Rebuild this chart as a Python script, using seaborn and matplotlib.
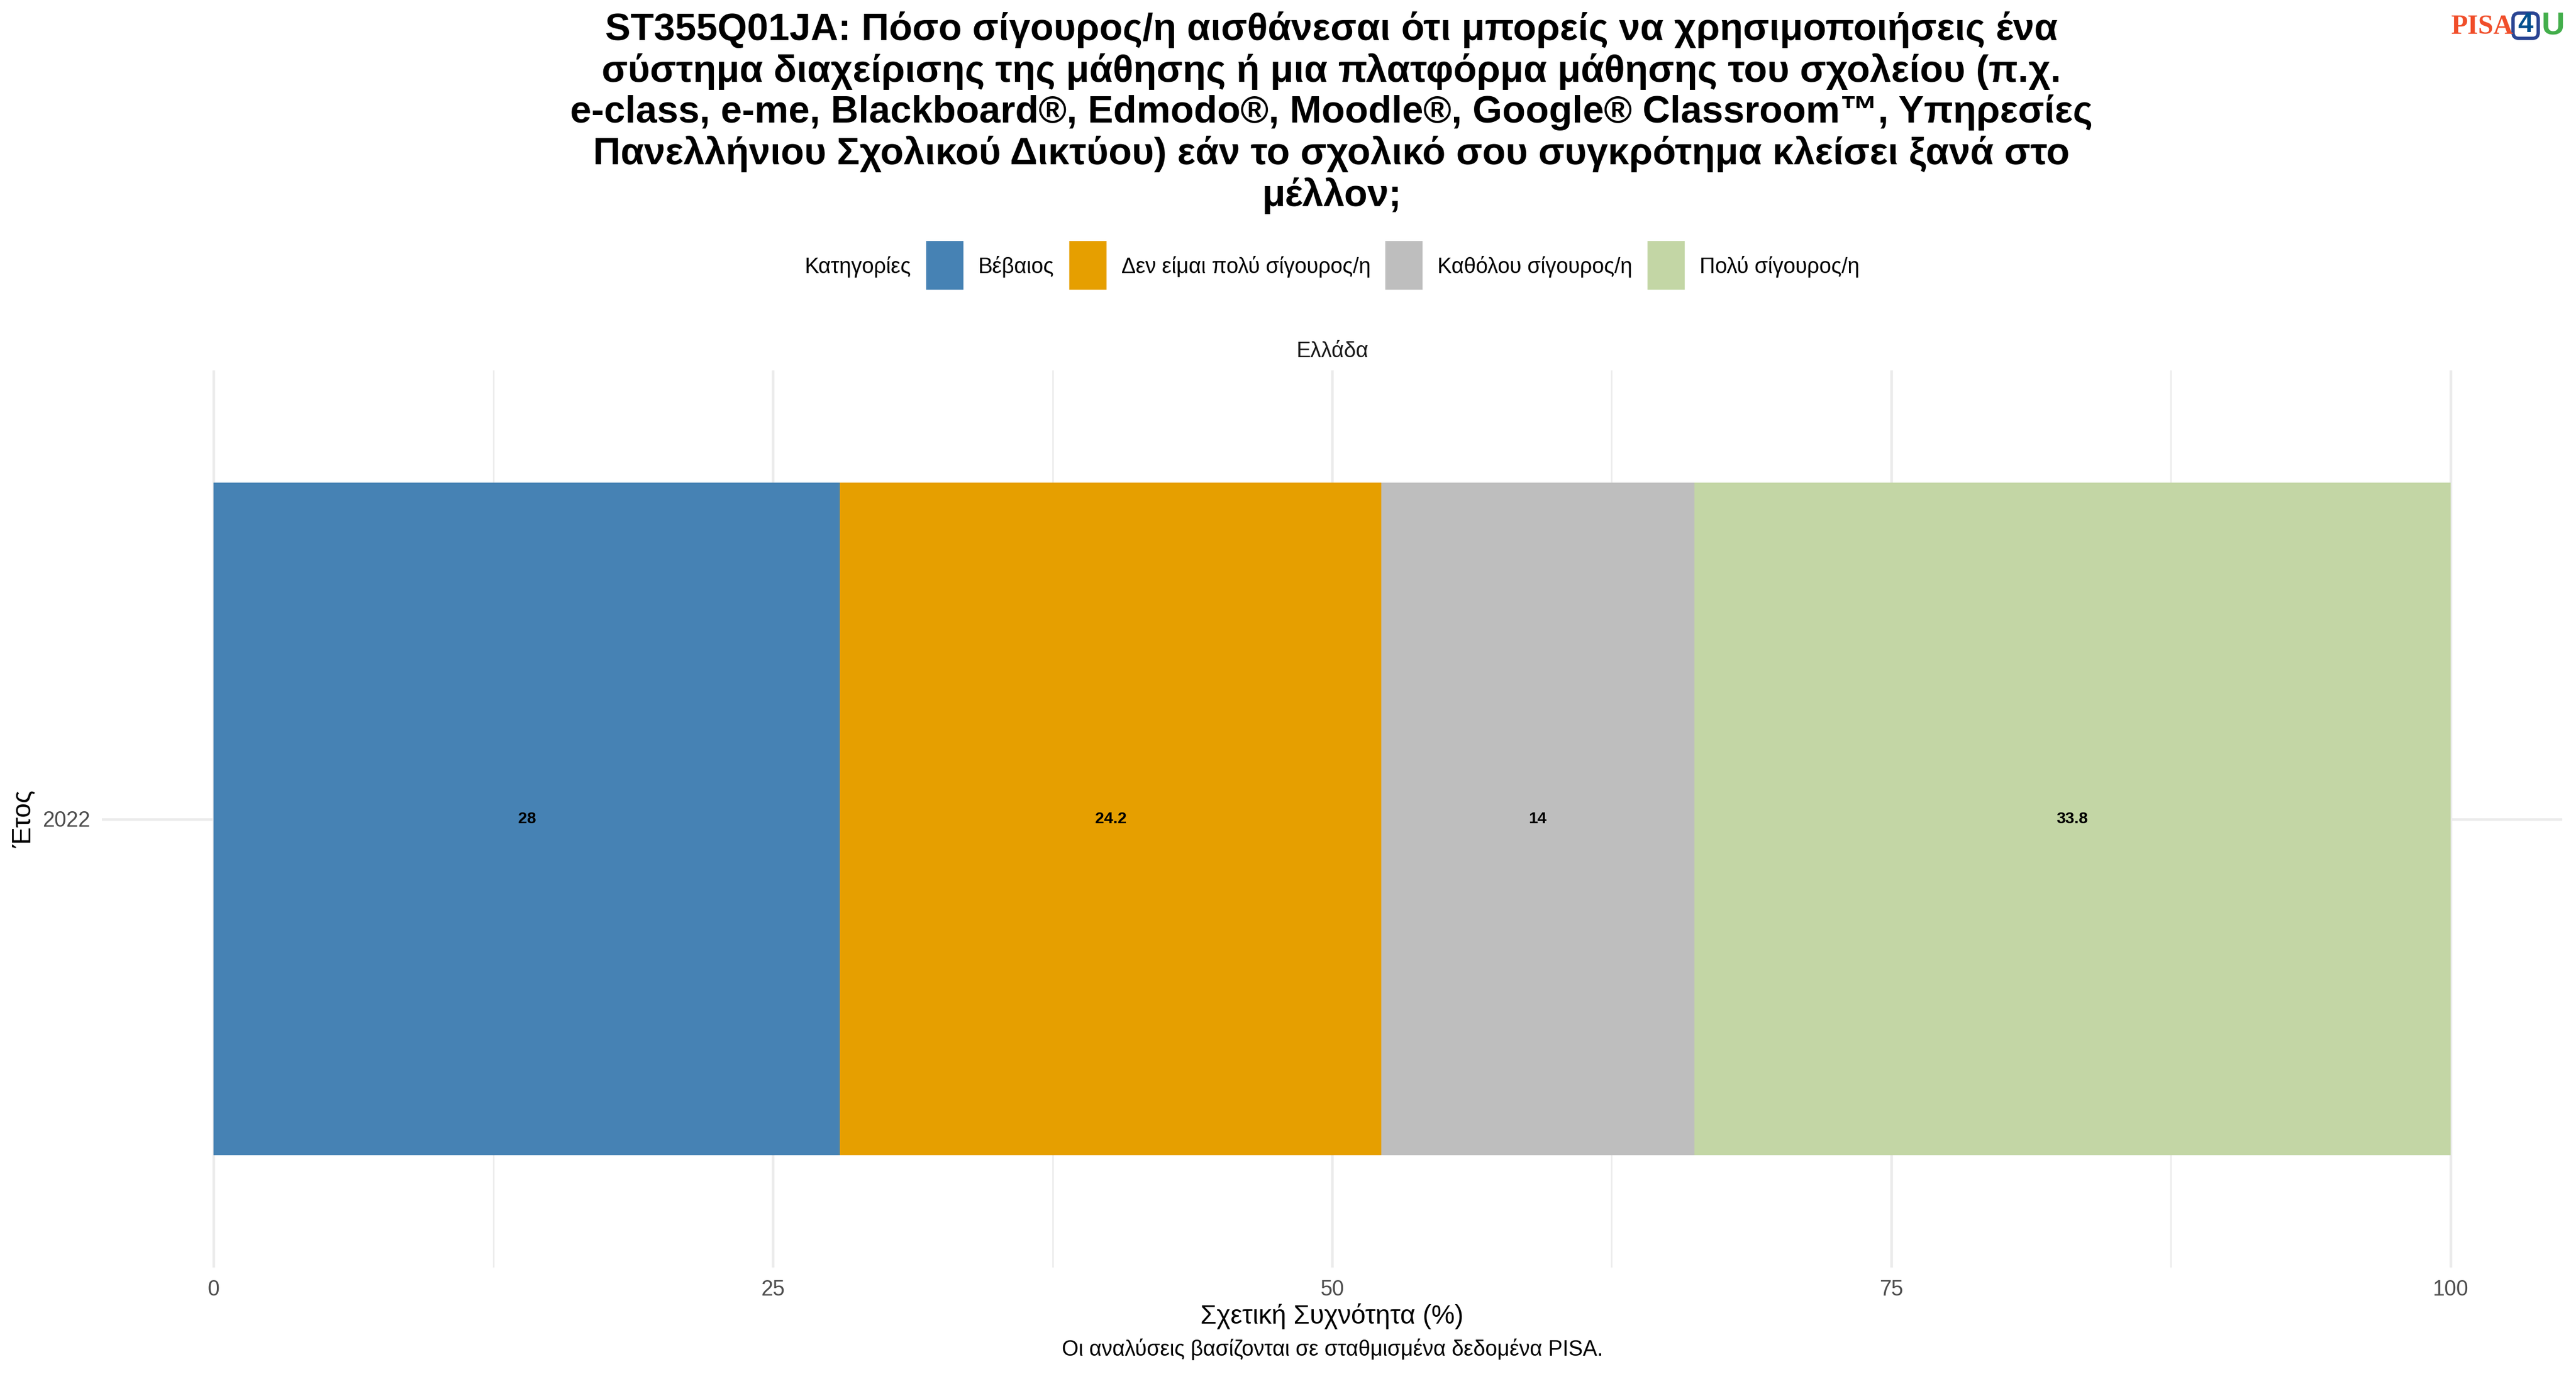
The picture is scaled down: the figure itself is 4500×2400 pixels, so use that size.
import matplotlib
matplotlib.use("Agg")
import matplotlib.pyplot as plt
from matplotlib.patches import Rectangle, FancyBboxPatch
import seaborn as sns
import pandas as pd

years = ["2022"]
categories = ["Βέβαιος", "Δεν είμαι πολύ σίγουρος/η", "Καθόλου σίγουρος/η", "Πολύ σίγουρος/η"]
values = [28, 24.2, 14, 33.8]
colors = ["#4682B4", "#E69F00", "#BEBEBE", "#C3D6A5"]
value_labels = ["28", "24.2", "14", "33.8"]
major_ticks = [0, 25, 50, 75, 100]
minor_ticks = [12.5, 37.5, 62.5, 87.5]
title = ("ST355Q01JA: Πόσο σίγουρος/η αισθάνεσαι ότι μπορείς να χρησιμοποιήσεις ένα\n"
         "σύστημα διαχείρισης της μάθησης ή μια πλατφόρμα μάθησης του σχολείου (π.χ.\n"
         "e-class, e-me, Blackboard®, Edmodo®, Moodle®, Google® Classroom™, Υπηρεσίες\n"
         "Πανελλήνιου Σχολικού Δικτύου) εάν το σχολικό σου συγκρότημα κλείσει ξανά στο\n"
         "μέλλον;")

sns.set_theme(style="white")
plt.rcParams["font.family"] = ["Liberation Sans", "DejaVu Sans"]

W, H = 4500, 2400
fig = plt.figure(figsize=(15, 8), dpi=300, facecolor="white")
def fx(p): return p / W
def fy(p): return 1 - p / H

L, R, T, B = 178, 4476, 647, 2214
ax = fig.add_axes([fx(L), fy(B), (R - L) / W, (B - T) / H])

df = pd.DataFrame({"year": years * 4, "category": categories, "value": values})
left = 0
for cat, val, col, lab in zip(categories, values, colors, value_labels):
    sns.barplot(data=df[df["category"] == cat], x="value", y="year", orient="h",
                color=col, saturation=1, width=0.9, left=left, ax=ax, zorder=3, linewidth=0, errorbar=None)
    ax.text(left + val / 2, 0, lab, ha="center", va="center", fontsize=6.8,
            fontweight="bold", color="black", zorder=4)
    left += val

ax.set_xlim(-5, 105)
ax.set_ylim(0.6, -0.6)
ax.set_xticks(major_ticks)
ax.set_xticks(minor_ticks, minor=True)
ax.grid(True, which="major", axis="both", color="#EBEBEB", linewidth=1.1, zorder=0)
ax.grid(True, which="minor", axis="x", color="#EBEBEB", linewidth=0.6, zorder=0)
ax.set_axisbelow(True)
for s in ax.spines.values():
    s.set_visible(False)
ax.tick_params(axis="x", which="both", length=0, labelsize=9, labelcolor="#4D4D4D", pad=5)
ax.tick_params(axis="y", which="both", length=0, labelsize=9, labelcolor="#4D4D4D", pad=5)
ax.set_xlabel("Σχετική Συχνότητα (%)", fontsize=11, color="black")
ax.set_ylabel("Έτος", fontsize=11, color="black")
ax.xaxis.set_label_coords(0.5, (B - 2276) / (B - T))
ax.yaxis.set_label_coords((63 - L) / (R - L), 0.5)

fig.text(fx(2326), fy(197), title, ha="center", va="center", fontsize=16, fontweight="bold",
         color="black", linespacing=1.175)

fig.text(fx(2328), fy(614), "Ελλάδα", ha="center", va="center", fontsize=9, color="#1A1A1A")
fig.text(fx(2328), fy(2357), "Οι αναλύσεις βασίζονται σε σταθμισμένα δεδομένα PISA.",
         ha="center", va="center", fontsize=9, color="black")

# legend
fig.text(fx(1406), fy(466), "Κατηγορίες", ha="left", va="center", fontsize=9, color="black")
box_x = [1618, 1868, 2420, 2878]
for x, col, cat in zip(box_x, colors, categories):
    fig.add_artist(Rectangle((fx(x), fy(506)), 65 / W, 85 / H, transform=fig.transFigure,
                             facecolor=col, edgecolor="none"))
    fig.text(fx(x + 91), fy(466), cat, ha="left", va="center", fontsize=9, color="black")

# logo
fig.text(fx(4281), fy(47), "PISA", ha="left", va="center", fontsize=11.5, fontweight="bold",
         family=["Liberation Serif"], color="#F04E2A")
logo_ax = fig.add_axes([fx(4380), fy(80), 100 / W, 80 / H])
logo_ax.set_xlim(4380, 4480)
logo_ax.set_ylim(80, 0)
logo_ax.axis("off")
logo_ax.add_patch(FancyBboxPatch((4390, 23), 44, 44, boxstyle="round,pad=0,rounding_size=10",
                                 facecolor="white", edgecolor="#2A4593", linewidth=1.4))
logo_ax.text(4412, 44, "4", ha="center", va="center", fontsize=11.5, fontweight="bold", color="#00508F")
logo_ax.text(4460, 45, "U", ha="center", va="center", fontsize=13.5, fontweight="bold", color="#43AE4B")

fig.savefig("out.png", dpi=300, facecolor="white")
